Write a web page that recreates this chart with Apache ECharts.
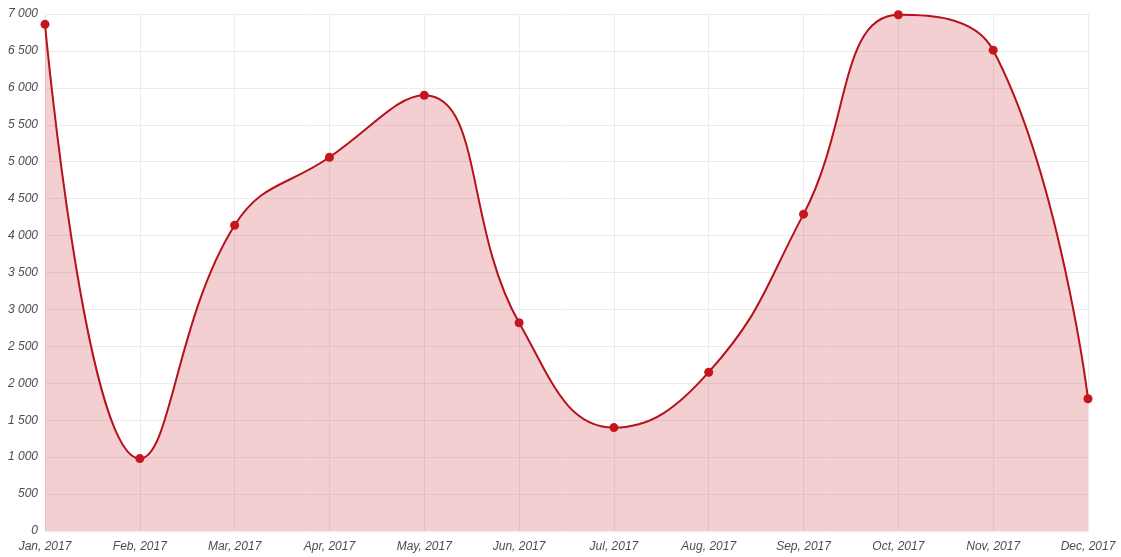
<!DOCTYPE html>
<html>
<head>
<meta charset="utf-8">
<script src="https://cdn.jsdelivr.net/npm/echarts@6/dist/echarts.min.js"></script>
<style>
    html, body { margin: 0; padding: 0; background: #fff; }
    #chart { width: 1121px; height: 557px; }
</style>
</head>
<body>
<div id="chart"></div>
<script>
    // monthly values
    var months = ['Jan, 2017', 'Feb, 2017', 'Mar, 2017', 'Apr, 2017', 'May, 2017', 'Jun, 2017',
        'Jul, 2017', 'Aug, 2017', 'Sep, 2017', 'Oct, 2017', 'Nov, 2017', 'Dec, 2017'];
    var values = [6860, 980, 4140, 5060, 5900, 2820, 1400, 2150, 4290, 6990, 6510, 1790];

    var labelFont = "'Liberation Sans', Arial, sans-serif";

    var chart = echarts.init(document.getElementById('chart'));
    var option = {
        animation: false,
        grid: {
            left: 45,
            right: 33,
            top: 14,
            bottom: 26
        },
        xAxis: {
            type: 'category',
            data: months,
            boundaryGap: false,
            axisLine: { show: false },
            axisTick: { show: false },
            axisLabel: {
                color: '#4d4d4d',
                fontSize: 12,
                fontStyle: 'italic',
                fontFamily: labelFont,
                margin: 10,
                interval: 0
            },
            splitLine: {
                show: true,
                lineStyle: { color: '#ebebeb' }
            }
        },
        yAxis: {
            type: 'value',
            min: 0,
            max: 7000,
            interval: 500,
            axisLine: { show: false },
            axisTick: { show: false },
            axisLabel: {
                color: '#4d4d4d',
                fontSize: 12,
                fontStyle: 'italic',
                fontFamily: labelFont,
                margin: 7,
                formatter: function(v) {
                    return String(v).replace(/\B(?=(\d{3})+(?!\d))/g, ' ');
                }
            },
            splitLine: {
                lineStyle: { color: '#ebebeb' }
            }
        },
        series: [{
            type: 'line',
            data: values,
            smooth: 0.45,
            symbol: 'circle',
            symbolSize: 9,
            itemStyle: { color: '#c4161c' },
            lineStyle: { color: '#b5121b', width: 2 },
            areaStyle: { color: 'rgba(210, 70, 80, 0.26)', opacity: 1 }
        }]
    };
    chart.setOption(option);
</script>
</body>
</html>
